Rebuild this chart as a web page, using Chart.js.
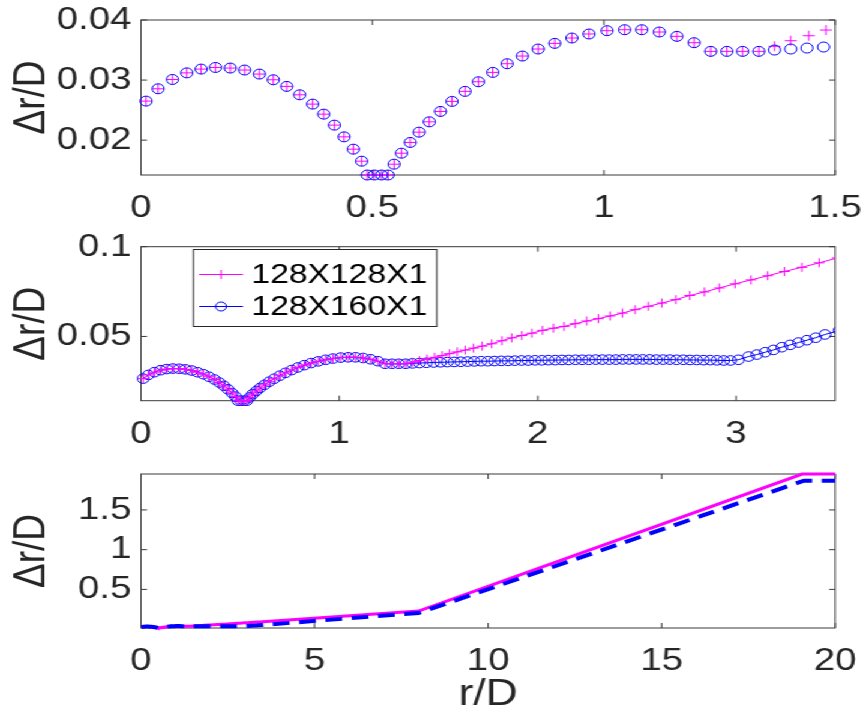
<!DOCTYPE html>
<html><head><meta charset="utf-8">
<script src="https://cdn.jsdelivr.net/npm/chart.js@4.4.0/dist/chart.umd.min.js"></script>
<style>
html,body{margin:0;padding:0;background:#fff;overflow:hidden;width:863px;height:714px;}
#wrap{position:absolute;left:0;top:0;width:719px;height:714px;transform:scaleX(1.20028);transform-origin:0 0;}
#wrap canvas{position:absolute;left:0;}
</style></head><body>
<div id="wrap">
<canvas id="c1" width="719" height="225" style="top:0px"></canvas>
<canvas id="c2" width="719" height="225" style="top:225px"></canvas>
<canvas id="c3" width="719" height="264" style="top:450px"></canvas>
</div>
<script>
// ---------------- data ----------------
const label128 = '128X128X1';
const label160 = '128X160X1';

const r128 = [0.011,0.037,0.068,0.099,0.130,0.161,0.193,0.224,0.256,0.286,
  0.315,0.343,0.371,0.395,0.418,0.439,0.459,0.477,0.489,0.504,
  0.520,0.534,0.547,0.563,0.582,0.601,0.623,0.647,0.672,0.700,
  0.729,0.760,0.791,0.824,0.858,0.894,0.931,0.968,1.007,1.045,
  1.082,1.120,1.158,1.195,1.231,1.266,1.300,1.335,
  1.369,1.404,1.443,1.480,
  1.517,1.555,1.594,1.634,1.676,1.720,1.768,1.819,1.869,1.920,
  1.970,2.024,2.079,2.133,2.189,2.247,2.306,2.365,2.427,2.491,
  2.558,2.626,2.696,2.767,2.841,2.916,2.995,3.076,3.160,3.244,
  3.332,3.419,3.510,
  8.0,19.05,20.0];
const dr128 = [0.0265,0.02855,0.0301,0.0312,0.03183,0.0321,0.0320,0.03167,0.0310,0.03005,
  0.02895,0.02755,0.0260,0.02433,0.0225,0.02055,0.0185,0.0165,0.0142,0.0142,
  0.0142,0.0142,0.0160,0.01783,0.01962,0.02133,0.02305,0.02478,0.02645,0.02812,
  0.02972,0.03128,0.03272,0.0340,0.03517,0.03611,0.0370,0.03767,0.03822,0.03838,
  0.03838,0.0380,0.03728,0.03622,0.03478,0.03478,0.03478,0.03478,
  0.03562,0.03655,0.03738,0.03833,
  0.0393,0.0404,0.0414,0.0424,0.0435,0.0446,0.0459,0.0476,0.0492,0.0505,
  0.0518,0.0534,0.0546,0.0556,0.0571,0.0586,0.0599,0.0614,0.0630,0.0649,
  0.0668,0.0686,0.0705,0.0728,0.0748,0.0770,0.0793,0.0815,0.0838,0.0862,
  0.0885,0.0910,0.0937,
  0.228,1.952,1.952];

const r160 = [0.011,0.037,0.068,0.099,0.130,0.161,0.193,0.224,0.256,0.286,
  0.315,0.343,0.371,0.395,0.418,0.439,0.459,0.477,0.489,0.504,
  0.520,0.534,0.547,0.563,0.582,0.601,0.623,0.647,0.672,0.700,
  0.729,0.760,0.791,0.824,0.858,0.894,0.931,0.968,1.007,1.045,
  1.082,1.120,1.158,1.195,1.231,1.266,1.300,1.335,
  1.369,1.404,1.439,1.475,
  1.510,1.544,1.578,1.612,1.646,1.680,1.714,1.748,1.782,1.816,
  1.850,1.884,1.918,1.952,1.986,2.020,2.054,2.088,2.122,2.156,
  2.190,2.224,2.258,2.292,2.326,2.360,2.394,2.428,2.462,2.496,
  2.530,2.564,2.598,2.632,2.666,2.700,2.734,2.768,2.802,2.836,
  2.870,2.904,2.938,2.972,
  3.012,3.063,3.105,3.147,3.189,3.231,3.273,3.315,3.357,3.402,3.449,3.520,
  8.0,19.1,20.0];
const dr160 = [0.0265,0.02855,0.0301,0.0312,0.03183,0.0321,0.0320,0.03167,0.0310,0.03005,
  0.02895,0.02755,0.0260,0.02433,0.0225,0.02055,0.0185,0.0165,0.0142,0.0142,
  0.0142,0.0142,0.0160,0.01783,0.01962,0.02133,0.02305,0.02478,0.02645,0.02812,
  0.02972,0.03128,0.03272,0.0340,0.03517,0.03611,0.0370,0.03767,0.03822,0.03838,
  0.03838,0.0380,0.03728,0.03622,0.03478,0.03478,0.03478,0.03478,
  0.0350,0.03517,0.03533,0.0355,
  0.0356,0.0357,0.0358,0.0359,0.0360,0.0361,0.0362,0.0362,0.0363,0.0364,
  0.0364,0.0365,0.0366,0.0366,0.0367,0.0367,0.0368,0.0368,0.0369,0.0369,
  0.0370,0.0370,0.0370,0.0371,0.0371,0.0371,0.0371,0.0372,0.0372,0.0372,
  0.0372,0.0372,0.0371,0.0371,0.0371,0.0370,0.0370,0.0369,0.0369,0.0368,
  0.0368,0.0367,0.0366,0.0366,
  0.0370,0.0388,0.0399,0.0412,0.0425,0.0440,0.0453,0.0466,0.0479,0.0493,0.0511,0.0533,
  0.203,1.868,1.868];

const topXTicks = [0, 0.5, 1, 1.5];   const topXLabels = ['0', '0.5', '1', '1.5'];
const topYTicks = [0.02, 0.03, 0.04]; const topYLabels = ['0.02', '0.03', '0.04'];
const midXTicks = [0, 1, 2, 3];       const midXLabels = ['0', '1', '2', '3'];
const midYTicks = [0.05, 0.1];        const midYLabels = ['0.05', '0.1'];
const botXTicks = [0, 5, 10, 15, 20]; const botXLabels = ['0', '5', '10', '15', '20'];
const botYTicks = [0.5, 1, 1.5];      const botYLabels = ['0.5', '1', '1.5'];
const yTitle = 'Δr/D';
const xTitle = 'r/D';

// ---------------- styling ----------------
const FONT = '"Liberation Sans", Arial, Helvetica, sans-serif';
const TXT = '#262626';
const MAG = '#FF00FF';
const BLUE = '#0000FF';
const YAXW = 117.5;
const PADR = 23.2;
const TICKSIZE = 32;
const TITLESIZE = 37;
const LEGSIZE = 28;

function pts(xs, ys, xmax) {
  return xs.map((x, i) => ({x: x, y: ys[i]})).filter(p => p.x <= xmax);
}

const boxPlugin = {
  id: 'boxticks',
  beforeDatasetsDraw(chart) {
    const {ctx, chartArea: a, scales: {x, y}} = chart;
    ctx.save();
    ctx.strokeStyle = '#3a3a3a';
    ctx.lineWidth = 1;
    ctx.strokeRect(a.left, a.top, a.right - a.left, a.bottom - a.top);
    const L = 5;
    ctx.beginPath();
    x.ticks.forEach(t => {
      const px = x.getPixelForValue(t.value);
      ctx.moveTo(px, a.bottom); ctx.lineTo(px, a.bottom - L);
      ctx.moveTo(px, a.top); ctx.lineTo(px, a.top + L);
    });
    y.ticks.forEach(t => {
      const py = y.getPixelForValue(t.value);
      ctx.moveTo(a.left, py); ctx.lineTo(a.left + L, py);
      ctx.moveTo(a.right, py); ctx.lineTo(a.right - L, py);
    });
    ctx.stroke();
    ctx.restore();
  }
};

const legendPlugin = {
  id: 'inlegend',
  afterDraw(chart) {
    const {ctx} = chart;
    const bx = 161.2, by = 24.5, bw = 202.7, bh = 77;
    ctx.save();
    ctx.fillStyle = '#fff';
    ctx.fillRect(bx, by, bw, bh);
    ctx.strokeStyle = '#262626';
    ctx.lineWidth = 1;
    ctx.strokeRect(bx, by, bw, bh);
    const rows = [by + 25, by + 57];
    chart.data.datasets.slice().sort((a, b) => a.legendIndex - b.legendIndex).forEach((ds, i) => {
      const yy = rows[i];
      ctx.strokeStyle = ds.borderColor;
      ctx.lineWidth = 1;
      ctx.beginPath(); ctx.moveTo(166, yy); ctx.lineTo(202.5, yy); ctx.stroke();
      ctx.fillStyle = 'rgba(255,255,255,0)';
      ctx.strokeStyle = ds.borderColor;
      Chart.helpers.drawPoint(ctx, {pointStyle: ds.pointStyle, radius: 4.5, borderWidth: 1}, 184.2, yy);
      ctx.fillStyle = '#000';
      ctx.font = LEGSIZE + 'px ' + FONT;
      ctx.textBaseline = 'middle';
      ctx.textAlign = 'left';
      ctx.fillText(ds.label, 209.6, yy + 1);
    });
    ctx.restore();
  }
};

function zeroPad(s) { s.paddingLeft = 0; s.paddingRight = 0; s.paddingTop = 0; s.paddingBottom = 0; }

function makeScales(o) {
  return {
    x: {
      type: 'linear', min: o.xmin, max: o.xmax,
      grid: {display: false, drawTicks: false}, border: {display: false},
      afterBuildTicks: s => { s.ticks = o.xt.map(v => ({value: v})); },
      ticks: {font: {family: FONT, size: TICKSIZE, lineHeight: 1.2}, color: TXT, padding: 14,
              maxRotation: 0, autoSkip: false, callback: (v, i) => o.xl[i]},
      title: o.xtitle ? {display: true, text: o.xtitle, color: TXT,
              font: {family: FONT, size: TITLESIZE, lineHeight: 1}, padding: {top: 0, bottom: 1}} : {display: false},
      afterFit: s => { s.height = o.xh; zeroPad(s); }
    },
    y: {
      type: 'linear', min: o.ymin, max: o.ymax,
      grid: {display: false, drawTicks: false}, border: {display: false},
      afterBuildTicks: s => { s.ticks = o.yt.map(v => ({value: v})); },
      ticks: {font: {family: FONT, size: TICKSIZE, lineHeight: 1.2}, color: TXT, padding: 8,
              autoSkip: false, callback: (v, i) => o.yl[i]},
      title: {display: true, text: yTitle, color: TXT,
              font: {family: FONT, size: TITLESIZE, lineHeight: 1}, padding: {top: 8, bottom: 0}},
      afterFit: s => { s.width = YAXW; zeroPad(s); }
    }
  };
}

function baseOptions(o) {
  return {
    responsive: false, animation: false, events: [],
    layout: {padding: {left: 0, right: PADR, top: o.top, bottom: 0}},
    plugins: {legend: {display: false}, tooltip: {enabled: false}},
    scales: makeScales(o)
  };
}

// ---------------- top: markers only ----------------
new Chart(document.getElementById('c1'), {
  type: 'line',
  data: {datasets: [
    {label: label128, legendIndex: 0, data: pts(r128, dr128, 1.5), showLine: false,
     pointStyle: 'cross', pointRadius: 5, pointBorderWidth: 1, borderColor: MAG, pointBorderColor: MAG,
     backgroundColor: 'transparent', clip: false, order: 1},
    {label: label160, legendIndex: 1, data: pts(r160, dr160, 1.5), showLine: false,
     pointStyle: 'circle', pointRadius: 5, pointBorderWidth: 1, borderColor: BLUE, pointBorderColor: BLUE,
     pointBackgroundColor: 'transparent', backgroundColor: 'transparent', clip: false, order: 0}
  ]},
  options: baseOptions({top: 20, xh: 50, xmin: 0, xmax: 1.5, ymin: 0.0142, ymax: 0.04,
    xt: topXTicks, xl: topXLabels, yt: topYTicks, yl: topYLabels}),
  plugins: [boxPlugin]
});

// ---------------- middle: lines with markers + legend ----------------
const midClip = {left: false, top: false, right: 0, bottom: false};
new Chart(document.getElementById('c2'), {
  type: 'line',
  data: {datasets: [
    {label: label128, legendIndex: 0, data: pts(r128, dr128, 3.52), borderWidth: 1,
     pointStyle: 'cross', pointRadius: 4.5, pointBorderWidth: 1, borderColor: MAG, pointBorderColor: MAG,
     backgroundColor: 'transparent', clip: midClip, order: 0},
    {label: label160, legendIndex: 1, data: pts(r160, dr160, 3.52), borderWidth: 1,
     pointStyle: 'circle', pointRadius: 4.8, pointBorderWidth: 1, borderColor: BLUE, pointBorderColor: BLUE,
     pointBackgroundColor: 'transparent', backgroundColor: 'transparent', clip: midClip, order: 1}
  ]},
  options: baseOptions({top: 21.7, xh: 49.3, xmin: 0, xmax: 3.5, ymin: 0.0142, ymax: 0.1,
    xt: midXTicks, xl: midXLabels, yt: midYTicks, yl: midYLabels}),
  plugins: [boxPlugin, legendPlugin]
});

// ---------------- bottom: thick lines ----------------
new Chart(document.getElementById('c3'), {
  type: 'line',
  data: {datasets: [
    {label: label128, data: pts(r128, dr128, 20), borderWidth: 3, borderColor: MAG,
     pointRadius: 0, backgroundColor: 'transparent', clip: false, order: 1},
    {label: label160, data: pts(r160, dr160, 20), borderWidth: 4, borderColor: BLUE, borderDash: [14, 8],
     pointRadius: 0, backgroundColor: 'transparent', clip: false, order: 0}
  ]},
  options: baseOptions({top: 24, xh: 86, xmin: 0, xmax: 20, ymin: 0.0142, ymax: 1.952,
    xt: botXTicks, xl: botXLabels, yt: botYTicks, yl: botYLabels, xtitle: xTitle}),
  plugins: [boxPlugin]
});
</script>
</body></html>
